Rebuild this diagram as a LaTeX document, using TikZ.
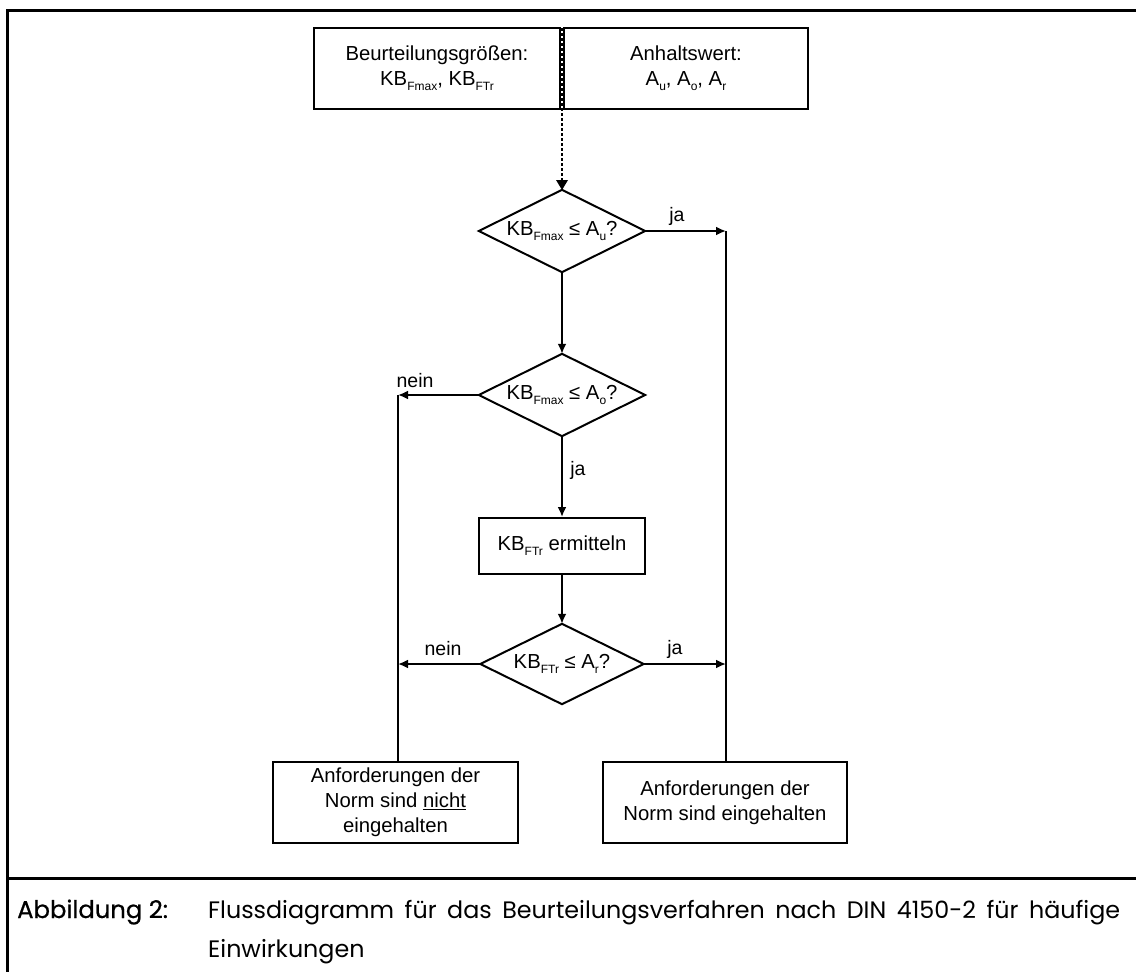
\documentclass[tikz,border=0pt]{standalone}
\usepackage{fontspec}
\setmainfont{Liberation Sans}
\newfontfamily\capfont{Poppins}
\newfontfamily\capbold{Poppins}[FakeBold=0.6]
\usetikzlibrary{shapes.geometric,arrows.meta}
\newcommand\mysub[1]{\raisebox{-0.45ex}{\fontsize{12}{12}\selectfont #1}}
\begin{document}
\begin{tikzpicture}[x=1pt,y=-1pt,
  every node/.style={font=\fontsize{20.3}{25}\selectfont},
  box/.style={draw, line width=2pt, inner sep=0pt, align=center},
  dec/.style={inner sep=0pt, minimum width=166pt, minimum height=82pt},
  decline/.style={line width=2pt, line join=miter},
  flow/.style={line width=2.2pt, -{Latex[length=10pt,width=9pt]}},
  plain/.style={line width=2.2pt},
  lbl/.style={font=\fontsize{19.5}{22}\selectfont},
  frame/.style={line width=3pt},
  capstyle/.style={inner sep=0pt, anchor=base west, font=\capfont\fontsize{23.8}{39}\selectfont}]
\useasboundingbox (0,0) rectangle (1136,972);

% frame
\draw[frame] (7,972) -- (7,10) -- (1136,10);
\draw[frame] (7,878) -- (1136,878);

% top boxes
\node[box, minimum width=246pt, minimum height=81pt] (inA) at (437,68.5)
  {Beurteilungsgrößen:\\KB\mysub{Fmax}, KB\mysub{FTr}};
\node[box, minimum width=244pt, minimum height=81pt] (inB) at (686,68.5)
  {Anhaltswert:\\A\mysub{u}, A\mysub{o}, A\mysub{r}};
\coordinate (sep) at (562,28);

% decisions
\node[dec] (d1) at (562,231) {KB\mysub{Fmax} ≤ A\mysub{u}?};
\node[dec] (d2) at (562,395) {KB\mysub{Fmax} ≤ A\mysub{o}?};
\node[box, minimum width=166pt, minimum height=56pt] (calc) at (562,546) {KB\mysub{FTr} ermitteln};
\node[dec, minimum width=163pt, minimum height=80pt] (d3) at (562,664) {KB\mysub{FTr} ≤ A\mysub{r}?};
\foreach \d in {d1,d2,d3}
  \draw[decline] (\d.west) -- (\d.north) -- (\d.east) -- (\d.south) -- cycle;

% results
\node[box, minimum width=245pt, minimum height=81pt] (nok) at (395.5,802.5)
  {Anforderungen der\\Norm sind \underline{nicht}\\eingehalten};
\node[box, minimum width=244pt, minimum height=81pt] (ok) at (725,802.5)
  {Anforderungen der\\Norm sind eingehalten};

\coordinate (r1) at (726,231);
\coordinate (l1) at (398,395);
\coordinate (l3) at (398,664);
\coordinate (r3) at (726,664);

% connectors
\draw[line width=2.6pt, dash pattern=on 2.6pt off 2.4pt, shorten >=8pt] (sep) -- (d1.north);
\fill (556,180) -- (568,180) -- (562,190) -- cycle;
\draw[flow] (d1.east) -- (r1);
\draw[plain] (r1) -- (r1 |- ok.north);
\draw[flow] (d1.south) -- (d2.north);
\draw[flow] (d2.west) -- (l1);
\draw[plain] (l1) -- (l1 |- nok.north);
\draw[flow] (d2.south) -- (calc.north);
\draw[flow] (calc.south) -- (d3.north);
\draw[flow] (d3.west) -- (l3);
\draw[flow] (d3.east) -- (r3);

% labels
\node[lbl] (ja1) at (677,216) {ja};
\node[lbl] (nein2) at (415,381) {nein};
\node[lbl] (ja2) at (578,470) {ja};
\node[lbl] (nein3) at (443,649) {nein};
\node[lbl] (ja3) at (675,649) {ja};

% caption
\node[capstyle, font=\capbold\fontsize{24.3}{39}\selectfont] (capl) at (17,918) {Abbildung 2:};
\node[capstyle] (cap1) at (208,918) {\makebox[912pt][s]{Flussdiagramm für das Beurteilungsverfahren nach DIN 4150-2 für häufige}};
\node[capstyle] (cap2) at (208,957) {Einwirkungen};
\end{tikzpicture}
\end{document}
